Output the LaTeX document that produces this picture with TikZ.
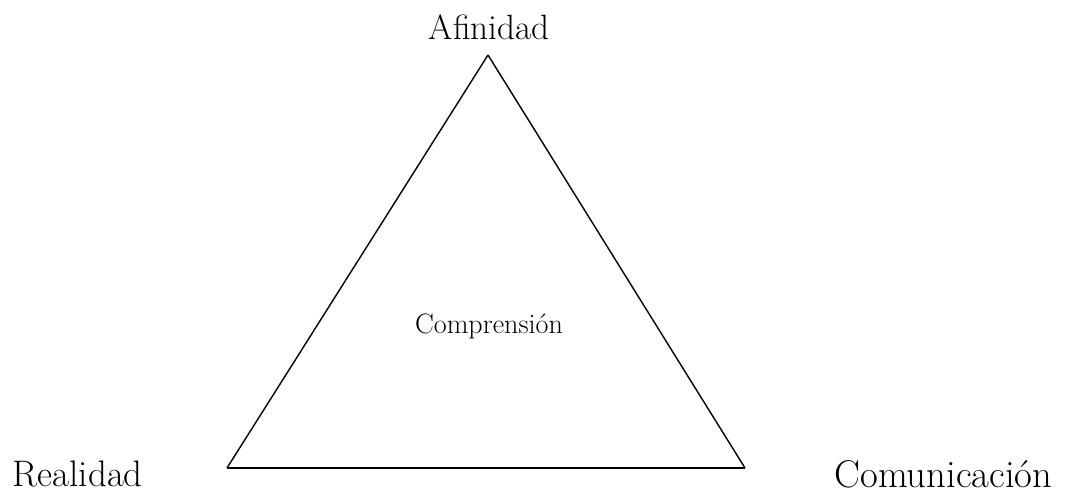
\documentclass[tikz,border=0pt]{standalone}
\usepackage{tikz}
\usetikzlibrary{positioning}

\begin{document}
\begin{tikzpicture}[
  x=0.02cm,y=-0.02cm,
  every node/.style={inner sep=0pt,font=\fontsize{20}{24}\selectfont},
  every path/.style={line width=0.8pt},
]
\useasboundingbox (0,0) rectangle (1065,496);
\coordinate(top) at(488,55); \coordinate(left) at(227,468);
\coordinate(right) at(745,468);
\node(afin) at(489,27){Afinidad};
\node[font=\fontsize{16}{19}\selectfont](comp) at(489,326){Comprensi\'on};
\node[anchor=west,font=\fontsize{21}{25}\selectfont](real) at(12,474){Realidad};
\node[anchor=east,font=\fontsize{22}{26}\selectfont](comu) at(1053,474){Comunicaci\'on};
\draw(top)--(left); \draw(left)--(right); \draw(right)--(top);
\end{tikzpicture}
\end{document}
